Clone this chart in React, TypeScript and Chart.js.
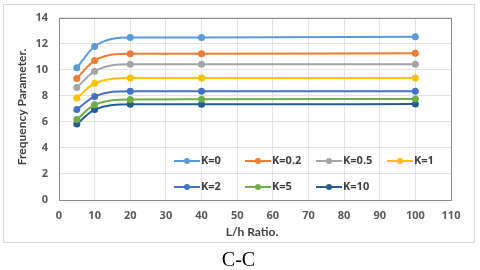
import React, { useEffect, useRef } from "react";
import { Chart, registerables } from "chart.js";

Chart.register(...registerables);

const ratios = [5, 10, 20, 40, 100];
const seriesNames = ["K=0", "K=0.2", "K=0.5", "K=1", "K=2", "K=5", "K=10"];
const k0 = [10.15, 11.78, 12.47, 12.47, 12.53];
const k02 = [9.33, 10.7, 11.23, 11.23, 11.27];
const k05 = [8.63, 9.89, 10.42, 10.42, 10.42];
const k1 = [7.82, 8.96, 9.36, 9.36, 9.36];
const k2 = [6.94, 7.95, 8.35, 8.35, 8.35];
const k5 = [6.18, 7.32, 7.72, 7.74, 7.76];
const k10 = [5.83, 6.94, 7.34, 7.35, 7.36];
const seriesValues = [k0, k02, k05, k1, k2, k5, k10];
const colors = ["#5B9BD5", "#ED7D31", "#A5A5A5", "#FFC000", "#4472C4", "#70AD47", "#255E91"];
const xTitle = "L/h Ratio.";
const yTitle = "Frequency Parameter.";
const caption = "C-C";

const FONT = "'Open Sans', sans-serif";
const TITLE_FONT = "Lato, 'Open Sans', sans-serif";

export default function App() {
  const ref = useRef<HTMLCanvasElement | null>(null);
  useEffect(() => {
    if (!ref.current) return;
    const extras = {
      id: "extras",
      beforeDatasetsDraw(chart: any) {
        const { ctx, chartArea } = chart;
        ctx.save();
        ctx.strokeStyle = "#8c8c8c";
        ctx.lineWidth = 1;
        ctx.strokeRect(
          Math.round(chartArea.left) + 0.5,
          Math.round(chartArea.top) + 0.5,
          Math.round(chartArea.right - chartArea.left),
          Math.round(chartArea.bottom - chartArea.top)
        );
        ctx.restore();
      },
      afterDraw(chart: any) {
        const { ctx, chartArea } = chart;
        ctx.save();
        ctx.fillStyle = "#404040";
        ctx.font = `bold 12px ${TITLE_FONT}`;
        ctx.textAlign = "center";
        ctx.textBaseline = "middle";
        ctx.fillText(xTitle, 252, 232);
        ctx.save();
        ctx.translate(22, 107);
        ctx.rotate(-Math.PI / 2);
        ctx.fillText(yTitle, 0, 0);
        ctx.restore();
        // legend
        ctx.font = `bold 11px ${FONT}`;
        ctx.textAlign = "left";
        seriesNames.forEach((name, i) => {
          const row = i < 4 ? 0 : 1;
          const col = i < 4 ? i : i - 4;
          const x0 = 174 + col * 71;
          const y = row === 0 ? 161 : 187;
          ctx.strokeStyle = colors[i];
          ctx.lineWidth = 2;
          ctx.beginPath();
          ctx.moveTo(x0, y);
          ctx.lineTo(x0 + 26, y);
          ctx.stroke();
          ctx.fillStyle = colors[i];
          ctx.beginPath();
          ctx.arc(x0 + 13, y, 3, 0, Math.PI * 2);
          ctx.fill();
          ctx.fillStyle = "#404040";
          ctx.fillText(name, x0 + 27, y);
        });
        ctx.restore();
      },
    };
    const chart = new Chart(ref.current, {
      type: "line",
      data: {
        datasets: seriesNames.map((name, i) => ({
          label: name,
          data: ratios.map((x, j) => ({ x, y: seriesValues[i][j] })),
          borderColor: colors[i],
          backgroundColor: colors[i],
          borderWidth: 2,
          pointRadius: 3.5,
          pointBorderWidth: 0,
          cubicInterpolationMode: "monotone" as const,
        })),
      },
      options: {
        animation: false,
        responsive: false,
        layout: { padding: { top: 15, right: 29, left: 0, bottom: 0 } },
        plugins: { legend: { display: false }, tooltip: { enabled: false } },
        scales: {
          x: {
            type: "linear",
            min: 0,
            max: 110,
            ticks: { stepSize: 10, color: "#595959", font: { family: FONT, size: 11, weight: "bold" }, padding: 9, maxRotation: 0 },
            grid: { color: "#e3e3e3", drawTicks: false },
            border: { display: false },
            afterFit(scale: any) { scale.height = 50; },
          },
          y: {
            min: 0,
            max: 14,
            ticks: { stepSize: 2, color: "#595959", font: { family: FONT, size: 11, weight: "bold" }, padding: 11 },
            grid: { color: "#e3e3e3", drawTicks: false },
            border: { display: false },
            afterFit(scale: any) { scale.width = 59; },
          },
        },
      },
      plugins: [extras],
    } as any);
    return () => chart.destroy();
  }, []);
  return (
    <div style={{ position: "fixed", left: 0, top: 0, width: 480, height: 270, background: "#fff" }}>
      <canvas ref={ref} width={480} height={250} style={{ position: "absolute", left: 0, top: 0, width: 480, height: 250 }} />
      <div style={{ position: "absolute", left: 3, top: 4, width: 470, height: 237, border: "1px solid #d9d9d9", pointerEvents: "none" }} />
      <div style={{ position: "absolute", left: 0, top: 248, width: 477, textAlign: "center", fontFamily: "'Liberation Serif', 'Times New Roman', serif", fontSize: 20, lineHeight: "23px", color: "#000" }}>{caption}</div>
    </div>
  );
}
